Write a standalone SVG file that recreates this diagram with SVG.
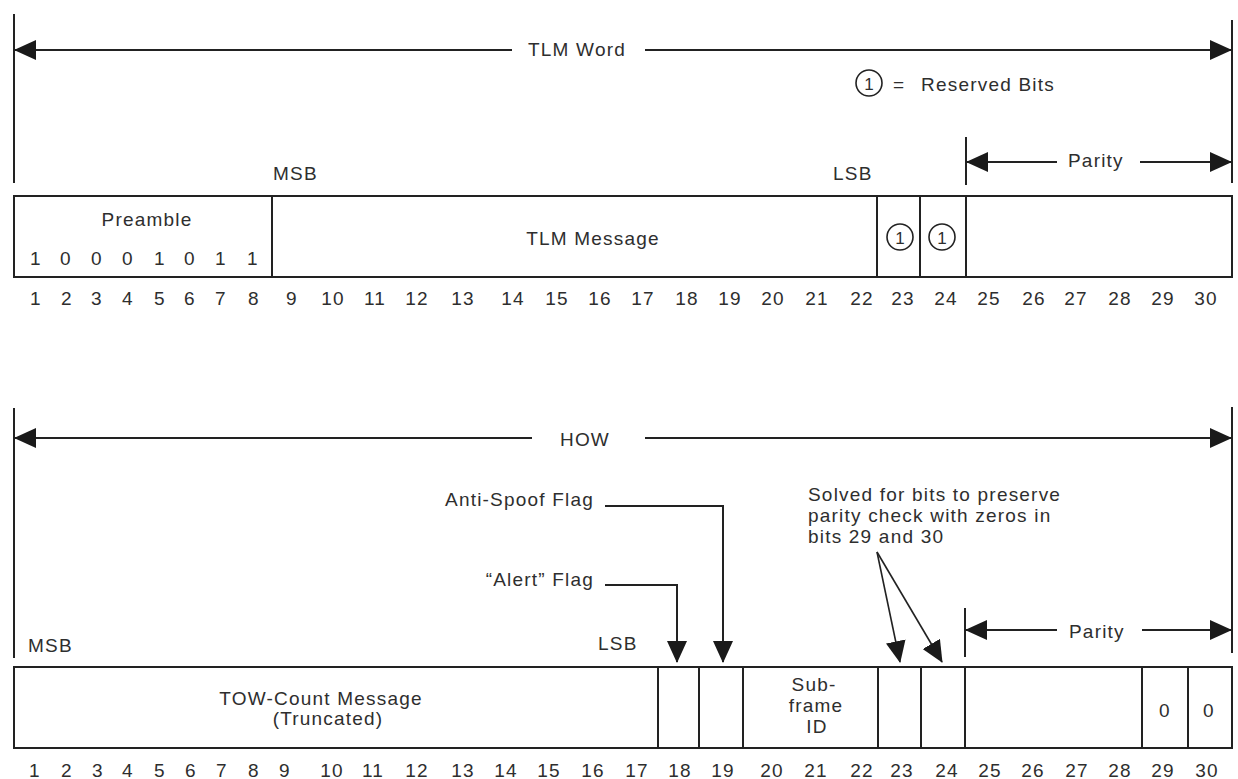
<svg xmlns="http://www.w3.org/2000/svg" width="1238" height="779" viewBox="0 0 1238 779">
<style>
text{font-family:"Liberation Sans",Arial,sans-serif;font-size:19px;letter-spacing:1.2px;fill:#2e2e2e}
.m{text-anchor:middle}
.e{text-anchor:end}
.ln{stroke:#222;stroke-width:2;fill:none}
.box{stroke:#222;stroke-width:2;fill:#fff}
.thin{stroke:#222;stroke-width:1.6;fill:none}
.ar{stroke:#222;stroke-width:2;fill:none;marker-end:url(#ah)}
.arb{stroke:#222;stroke-width:2;fill:none;marker-start:url(#ah);marker-end:url(#ah)}
.arf{stroke:#222;stroke-width:1.6;fill:none;marker-end:url(#ah)}
</style>
<defs>
<marker id="ah" viewBox="0 0 22 20" refX="21" refY="10" markerWidth="22" markerHeight="20" markerUnits="userSpaceOnUse" orient="auto-start-reverse">
<path d="M0,0 L22,10 L0,20 z" fill="#1a1a1a"/>
</marker>
</defs>
<rect width="1238" height="779" fill="#fff"/>

<!-- ============ TLM WORD ============ -->
<g id="tlm-extent">
<line class="ln" x1="14" y1="14" x2="14" y2="183"/>
<line class="ln" x1="1232" y1="20" x2="1232" y2="183"/>
<text class="m" x="577" y="56">TLM Word</text>
</g>
<g id="legend">
<circle cx="869" cy="83" r="13" class="thin"/>
<text class="m" x="869" y="90" style="font-size:17px;letter-spacing:0">1</text>
<text x="893" y="91">=</text>
<text x="921" y="91">Reserved Bits</text>
</g>
<g id="tlm-parity-extent">
<line class="ln" x1="966" y1="137" x2="966" y2="185"/>
<text x="1068" y="167">Parity</text>
</g>
<g id="tlm-msb-lsb">
<text x="273" y="180">MSB</text>
<text x="833" y="180">LSB</text>
</g>
<g id="tlm-box">
<rect class="box" x="14" y="196" width="1218" height="81"/>
</g>
<g id="tlm-preamble">
<line class="ln" x1="272" y1="196" x2="272" y2="277"/>
<text class="m" x="147" y="226">Preamble</text>
<g class="pb">
<text class="m" x="36" y="265">1</text>
<text class="m" x="66" y="265">0</text>
<text class="m" x="97" y="265">0</text>
<text class="m" x="128" y="265">0</text>
<text class="m" x="160" y="265">1</text>
<text class="m" x="190" y="265">0</text>
<text class="m" x="221" y="265">1</text>
<text class="m" x="253" y="265">1</text>
</g>
</g>
<g id="tlm-message">
<text class="m" x="593" y="245">TLM Message</text>
</g>
<g id="tlm-bit23">
<line class="ln" x1="877" y1="196" x2="877" y2="277"/>
<circle cx="900" cy="237" r="13" class="thin"/>
<text class="m" x="900" y="244" style="font-size:17px;letter-spacing:0">1</text>
</g>
<g id="tlm-bit24">
<line class="ln" x1="920" y1="196" x2="920" y2="277"/>
<circle cx="942" cy="237" r="13" class="thin"/>
<text class="m" x="942" y="244" style="font-size:17px;letter-spacing:0">1</text>
</g>
<g id="tlm-parity">
<line class="ln" x1="966" y1="196" x2="966" y2="277"/>
</g>
<g id="tlm-bitnums">
<text class="m" x="36" y="305">1</text>
<text class="m" x="67" y="305">2</text>
<text class="m" x="97" y="305">3</text>
<text class="m" x="128" y="305">4</text>
<text class="m" x="160" y="305">5</text>
<text class="m" x="190" y="305">6</text>
<text class="m" x="221" y="305">7</text>
<text class="m" x="254" y="305">8</text>
<text class="m" x="292" y="305">9</text>
<text class="m" x="333" y="305">10</text>
<text class="m" x="375" y="305">11</text>
<text class="m" x="417" y="305">12</text>
<text class="m" x="463" y="305">13</text>
<text class="m" x="513" y="305">14</text>
<text class="m" x="557" y="305">15</text>
<text class="m" x="600" y="305">16</text>
<text class="m" x="643" y="305">17</text>
<text class="m" x="687" y="305">18</text>
<text class="m" x="730" y="305">19</text>
<text class="m" x="773" y="305">20</text>
<text class="m" x="817" y="305">21</text>
<text class="m" x="862" y="305">22</text>
<text class="m" x="903" y="305">23</text>
<text class="m" x="946" y="305">24</text>
<text class="m" x="989" y="305">25</text>
<text class="m" x="1034" y="305">26</text>
<text class="m" x="1076" y="305">27</text>
<text class="m" x="1120" y="305">28</text>
<text class="m" x="1163" y="305">29</text>
<text class="m" x="1206" y="305">30</text>
</g>

<!-- ============ HOW WORD ============ -->
<g id="how-extent">
<line class="ln" x1="14" y1="408" x2="14" y2="658"/>
<line class="ln" x1="1232" y1="407" x2="1232" y2="653"/>
<text class="m" x="585" y="446">HOW</text>
</g>
<g id="how-parity-extent">
<line class="ln" x1="965" y1="608" x2="965" y2="657"/>
<text x="1069" y="638">Parity</text>
</g>
<g id="how-msb-lsb">
<text x="28" y="652">MSB</text>
<text x="598" y="650">LSB</text>
</g>
<g id="label-antispoof">
<text class="e" x="594" y="506">Anti-Spoof Flag</text>
</g>
<g id="label-alert">
<text class="e" x="594" y="586">“Alert” Flag</text>
</g>
<g id="label-solved">
<text x="808" y="501">Solved for bits to preserve</text>
<text x="808" y="522">parity check with zeros in</text>
<text x="808" y="543">bits 29 and 30</text>
</g>
<g id="how-box">
<rect class="box" x="14" y="667" width="1218" height="81"/>
</g>
<g id="how-tow">
<text class="m" x="321" y="705">TOW-Count Message</text>
<text class="m" x="328" y="725">(Truncated)</text>
</g>
<g id="how-bit18">
<line class="ln" x1="658" y1="667" x2="658" y2="748"/>
</g>
<g id="how-bit19">
<line class="ln" x1="699" y1="667" x2="699" y2="748"/>
</g>
<g id="how-subframe">
<line class="ln" x1="743" y1="667" x2="743" y2="748"/>
<text class="m" x="814" y="691">Sub-</text>
<text class="m" x="816" y="712">frame</text>
<text class="m" x="817" y="733">ID</text>
</g>
<g id="how-bit23">
<line class="ln" x1="878" y1="667" x2="878" y2="748"/>
</g>
<g id="how-bit24">
<line class="ln" x1="921" y1="667" x2="921" y2="748"/>
</g>
<g id="how-parity">
<line class="ln" x1="965" y1="667" x2="965" y2="748"/>
</g>
<g id="how-bit29">
<line class="ln" x1="1142" y1="667" x2="1142" y2="748"/>
<text class="m" x="1165" y="717">0</text>
</g>
<g id="how-bit30">
<line class="ln" x1="1188" y1="667" x2="1188" y2="748"/>
<text class="m" x="1209" y="717">0</text>
</g>
<g id="how-bitnums">
<text class="m" x="35" y="777">1</text>
<text class="m" x="67" y="777">2</text>
<text class="m" x="98" y="777">3</text>
<text class="m" x="128" y="777">4</text>
<text class="m" x="160" y="777">5</text>
<text class="m" x="191" y="777">6</text>
<text class="m" x="222" y="777">7</text>
<text class="m" x="254" y="777">8</text>
<text class="m" x="285" y="777">9</text>
<text class="m" x="332" y="777">10</text>
<text class="m" x="373" y="777">11</text>
<text class="m" x="417" y="777">12</text>
<text class="m" x="463" y="777">13</text>
<text class="m" x="506" y="777">14</text>
<text class="m" x="549" y="777">15</text>
<text class="m" x="593" y="777">16</text>
<text class="m" x="637" y="777">17</text>
<text class="m" x="680" y="777">18</text>
<text class="m" x="723" y="777">19</text>
<text class="m" x="772" y="777">20</text>
<text class="m" x="816" y="777">21</text>
<text class="m" x="862" y="777">22</text>
<text class="m" x="902" y="777">23</text>
<text class="m" x="947" y="777">24</text>
<text class="m" x="990" y="777">25</text>
<text class="m" x="1033" y="777">26</text>
<text class="m" x="1077" y="777">27</text>
<text class="m" x="1120" y="777">28</text>
<text class="m" x="1163" y="777">29</text>
<text class="m" x="1207" y="777">30</text>
</g>

<!-- ============ CONNECTORS ============ -->
<g id="connectors">
<!-- TLM word extent -->
<path class="ar" d="M512,50 H15"/>
<path class="ar" d="M645,50 H1231"/>
<!-- TLM parity extent -->
<path class="ar" d="M1057,162 H967"/>
<path class="ar" d="M1140,162 H1231"/>
<!-- HOW extent -->
<path class="ar" d="M532,438 H15"/>
<path class="ar" d="M645,438 H1231"/>
<!-- HOW parity extent -->
<path class="ar" d="M1057,630 H966"/>
<path class="ar" d="M1142,630 H1231"/>
<!-- flags -->
<path class="ar" d="M605,506 H723 V662"/>
<path class="ar" d="M605,585 H677 V662"/>
<!-- solved -->
<path class="arf" d="M877,552 L900,662"/>
<path class="arf" d="M877,552 L942,662"/>
</g>
</svg>
